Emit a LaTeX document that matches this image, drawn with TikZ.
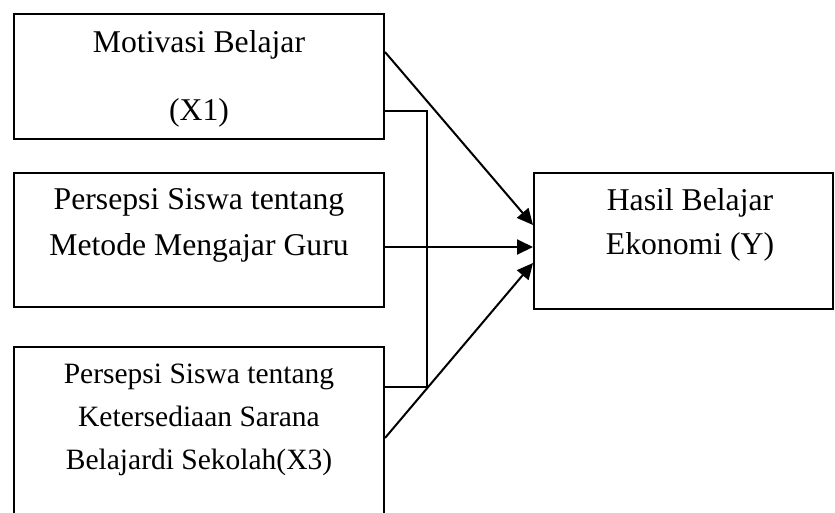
\documentclass[tikz,border=0pt]{standalone}
\usepackage{fontspec}
\setmainfont{Liberation Serif}
\usetikzlibrary{arrows.meta}
\tikzset{
  box/.style={draw, line width=2pt, inner sep=0pt},
  lbl/.style={align=center, inner sep=0pt},
  arr/.style={line width=2pt, -{Triangle[length=16pt,width=15pt]}}
}
\begin{document}
\begin{tikzpicture}[x=1pt,y=-1pt]
\clip (0,0) rectangle (835,512);

\node[box, minimum width=370pt, minimum height=125pt] (mot) at (199,76.5) {};
\node[box, minimum width=370pt, minimum height=134pt] (met) at (199,240) {};
\node[box, minimum width=370pt, minimum height=198pt] (sar) at (199,446) {};
\node[box, minimum width=299pt, minimum height=136pt] (hasil) at (683.5,241) {};

\node[lbl, font=\fontsize{31.7}{68}\selectfont] (motT) at (199,79) {Motivasi Belajar\\(X1)};
\node[lbl, font=\fontsize{31.7}{46}\selectfont] (metT) at (199,225) {Persepsi Siswa tentang\\Metode Mengajar Guru};
\node[lbl, font=\fontsize{29.5}{43}\selectfont] (sarT) at (199,420) {Persepsi Siswa tentang\\Ketersediaan Sarana\\Belajardi Sekolah(X3)};
\node[lbl, font=\fontsize{31.7}{44}\selectfont] (hasilT) at (690,225) {Hasil Belajar\\Ekonomi (Y)};

\coordinate (jn) at (427,387);
\draw[line width=2pt] ([yshift=-34.5pt]mot.east) -| (jn) -- (jn -| sar.east);

\draw[arr] ([yshift=24.5pt]mot.east) -- ([yshift=16pt]hasil.west);
\draw[arr] ([yshift=-7pt]met.east) -- ([yshift=-6pt]hasil.west);
\draw[arr] ([yshift=8pt]sar.east) -- ([yshift=-22pt]hasil.west);
\end{tikzpicture}
\end{document}
